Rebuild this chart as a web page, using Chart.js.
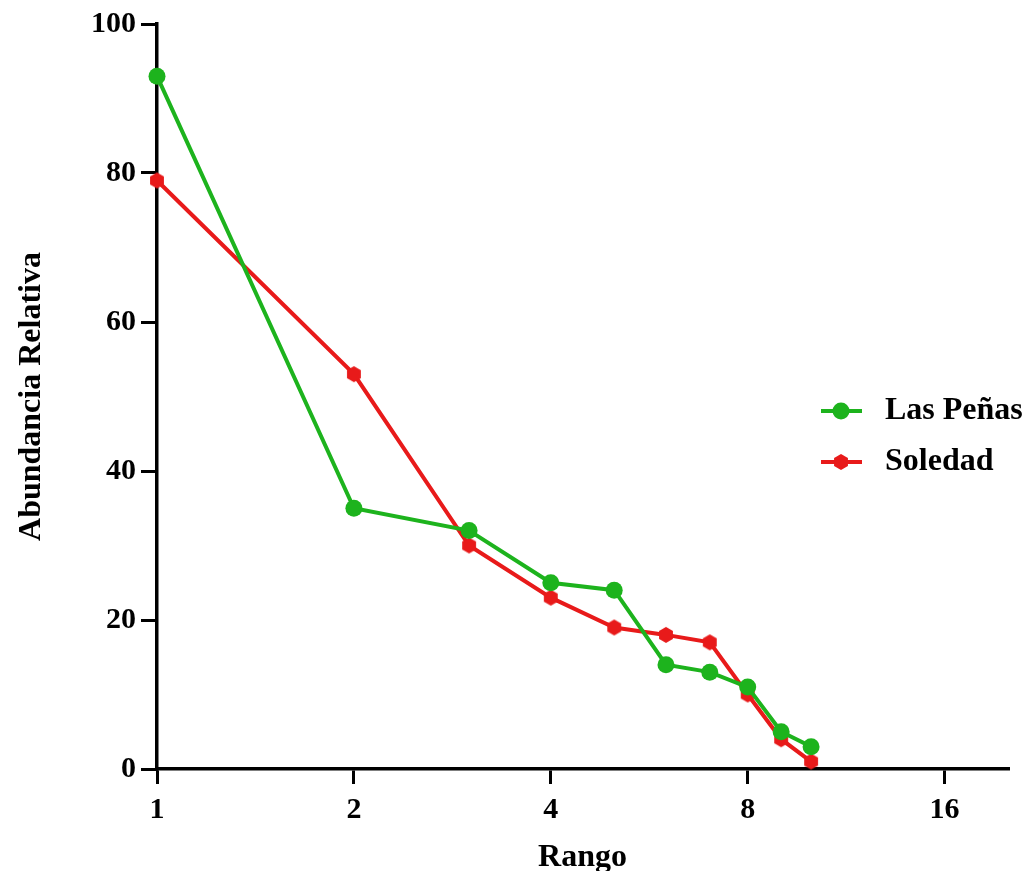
<!DOCTYPE html>
<html>
<head>
<meta charset="utf-8">
<script src="https://cdn.jsdelivr.net/npm/chart.js@4.4.1/dist/chart.umd.min.js"></script>
<style>
  html, body { margin: 0; padding: 0; background: #fff; }
  #wrap { width: 1026px; height: 871px; position: relative; }
</style>
</head>
<body>
<div id="wrap"><canvas id="c" width="1026" height="871"></canvas></div>
<script>
const ranks = [1, 2, 3, 4, 5, 6, 7, 8, 9, 10];
const lasPenas = [93, 35, 32, 25, 24, 14, 13, 11, 5, 3];
const soledad = [79, 53, 30, 23, 19, 18, 17, 10, 4, 1];
const xTicks = [1, 2, 4, 8, 16];
const yTicks = [0, 20, 40, 60, 80, 100];
const seriesNames = ['Las Peñas', 'Soledad'];
const xTitle = 'Rango';
const yTitle = 'Abundancia Relativa';

const GREEN = '#1db31d';
const RED = '#e81a1a';
const FONT = "'Liberation Serif', 'Times New Roman', serif";

function hexagon(r, color) {
  const s = Math.ceil(r * 2 + 2);
  const cv = document.createElement('canvas');
  cv.width = s; cv.height = s;
  const g = cv.getContext('2d');
  g.fillStyle = color;
  g.beginPath();
  for (let i = 0; i < 6; i++) {
    const a = Math.PI / 6 + i * Math.PI / 3;
    const px = s / 2 + r * Math.cos(a), py = s / 2 + r * Math.sin(a);
    if (i === 0) g.moveTo(px, py); else g.lineTo(px, py);
  }
  g.closePath();
  g.fill();
  return cv;
}
const hexImg = hexagon(8, RED);

const legendPlugin = {
  id: 'sideLegend',
  afterDraw(chart) {
    const ctx = chart.ctx;
    const items = [
      { label: seriesNames[0], color: GREEN, y: 411, circle: true },
      { label: seriesNames[1], color: RED, y: 462, circle: false }
    ];
    ctx.save();
    items.forEach(it => {
      ctx.strokeStyle = it.color;
      ctx.lineWidth = 4;
      ctx.beginPath();
      ctx.moveTo(821, it.y); ctx.lineTo(862, it.y);
      ctx.stroke();
      if (it.circle) {
        ctx.fillStyle = it.color;
        ctx.beginPath(); ctx.arc(841, it.y, 8.5, 0, Math.PI * 2); ctx.fill();
      } else {
        ctx.drawImage(hexImg, 841 - hexImg.width / 2, it.y - hexImg.height / 2);
      }
      ctx.fillStyle = '#000';
      ctx.font = 'bold 32px ' + FONT;
      ctx.textBaseline = 'middle';
      ctx.textAlign = 'left';
      ctx.fillText(it.label, 885, it.y);
    });
    ctx.restore();
  }
};

new Chart(document.getElementById('c'), {
  type: 'line',
  data: {
    datasets: [
      {
        label: seriesNames[0],
        data: ranks.map((r, i) => ({ x: r, y: lasPenas[i] })),
        borderColor: GREEN, backgroundColor: GREEN,
        borderWidth: 4, pointRadius: 8.5, pointStyle: 'circle',
        pointBorderWidth: 0, pointBackgroundColor: GREEN,
        clip: false, tension: 0
      },
      {
        label: seriesNames[1],
        data: ranks.map((r, i) => ({ x: r, y: soledad[i] })),
        borderColor: RED, backgroundColor: RED,
        borderWidth: 4, pointRadius: 8, pointStyle: hexImg,
        pointBorderWidth: 0,
        clip: false, tension: 0
      }
    ]
  },
  options: {
    responsive: false,
    animation: false,
    events: [],
    layout: { padding: { top: 24, right: 18, left: 0, bottom: 0 } },
    plugins: { legend: { display: false }, tooltip: { enabled: false } },
    scales: {
      x: {
        type: 'logarithmic',
        min: 1, max: 20,
        afterBuildTicks: s => { s.ticks = xTicks.map(v => ({ value: v })); },
        afterFit: s => { s.height = 102; },
        ticks: {
          callback: v => String(v),
          color: '#000', padding: 8, maxRotation: 0, autoSkip: false,
          font: { family: FONT, size: 30, weight: 'bold' }
        },
        grid: { drawOnChartArea: false, drawTicks: true, tickLength: 15, color: '#000', lineWidth: 3 },
        border: { display: true, color: '#000', width: 3.5 },
        title: {
          display: true, text: xTitle, color: '#000',
          font: { family: FONT, size: 32, weight: 'bold', lineHeight: 1 },
          padding: { top: 0, bottom: -3 }
        }
      },
      y: {
        type: 'linear',
        min: 0, max: 100,
        afterBuildTicks: s => { s.ticks = yTicks.map(v => ({ value: v })); },
        afterFit: s => { s.width = 157; },
        ticks: {
          color: '#000', padding: 5,
          font: { family: FONT, size: 30, weight: 'bold' }
        },
        grid: { drawOnChartArea: false, drawTicks: true, tickLength: 16, color: '#000', lineWidth: 3 },
        border: { display: true, color: '#000', width: 3.5 },
        title: {
          display: true, text: yTitle, color: '#000',
          font: { family: FONT, size: 32, weight: 'bold', lineHeight: 1 },
          padding: { top: 16, bottom: 0 }
        }
      }
    }
  },
  plugins: [legendPlugin]
});
</script>
</body>
</html>
